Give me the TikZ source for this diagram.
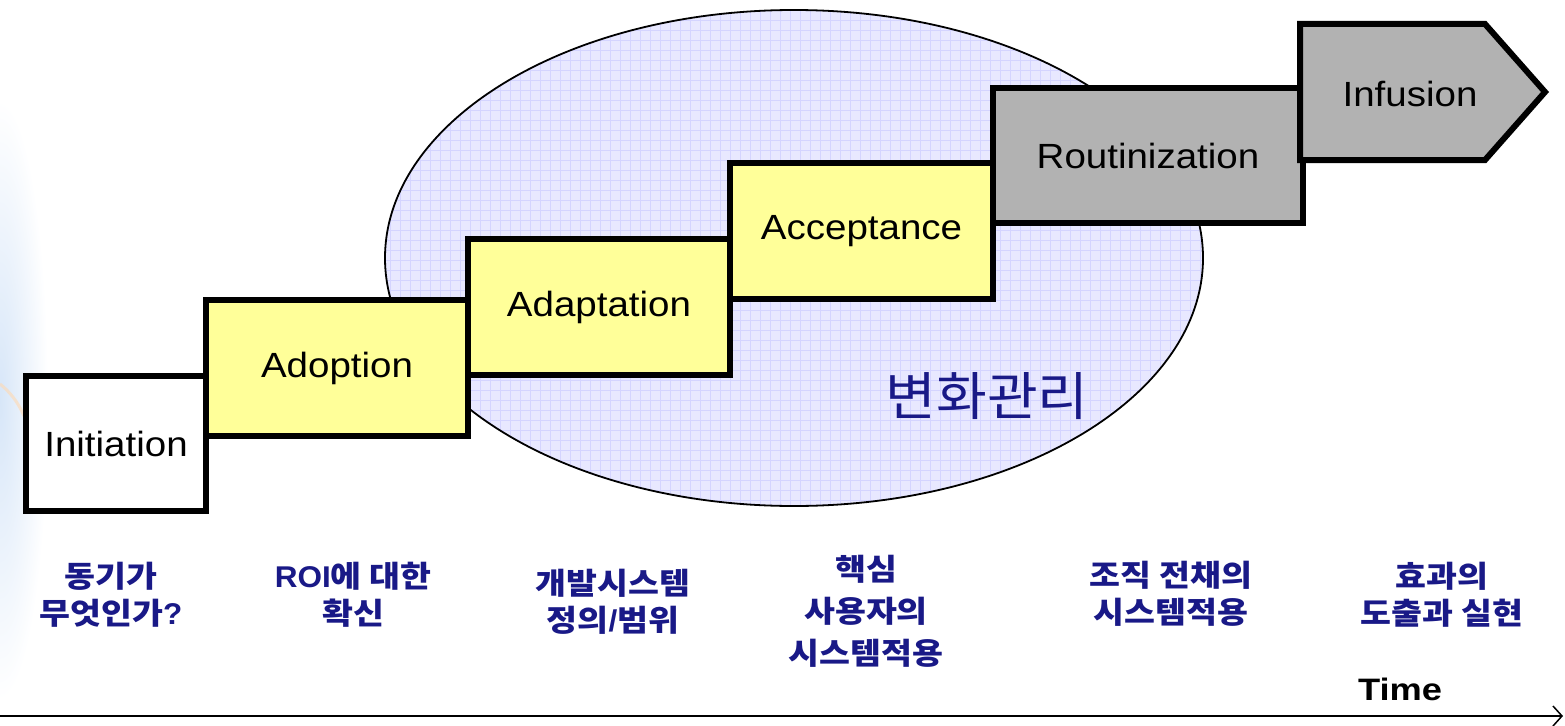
\documentclass[tikz,border=0pt]{standalone}
\usepackage{fontspec}
\setmainfont{Liberation Sans}
\newfontfamily\boxfont{Liberation Sans}[FakeStretch=1.1]
\newfontfamily\krfont{Noto Sans CJK KR}[FakeStretch=1.12]
\newfontfamily\bigkrfont{Noto Sans CJK KR}[FakeStretch=1.06]
\newfontfamily\latbold{Liberation Sans Bold}[FakeStretch=1.05]
\newfontfamily\timefont{Liberation Sans Bold}[FakeStretch=1.17]
\usetikzlibrary{arrows.meta,shapes.geometric}
\definecolor{navy}{RGB}{25,25,135}
\definecolor{stageyellow}{RGB}{255,255,153}
\definecolor{stagegray}{RGB}{178,178,178}
\definecolor{ellfill}{RGB}{232,232,255}
\definecolor{ellgrid}{RGB}{212,212,255}
\definecolor{edgeblue}{RGB}{215,230,248}
\begin{document}
\begin{tikzpicture}[x=1pt,y=-1pt,
  stage/.style={draw=black, line width=6pt, inner sep=0pt, anchor=north west,
    font=\boxfont\fontsize{35}{42}\selectfont, text=black},
  stagetext/.style={inner sep=0pt, font=\boxfont\fontsize{35}{42}\selectfont, text=black},
  steplabel/.style={align=center, text=navy, inner sep=0pt,
    font=\krfont\bfseries\fontsize{30}{37}\selectfont},
]
\useasboundingbox (0,0) rectangle (1565,725);
\fill[white] (0,0) rectangle (1565,725);
% faint decoration at the left edge
\begin{scope}
  \clip (0,0) rectangle (1565,725);
  \shade[inner color=edgeblue, outer color=white] (0,400) ellipse [x radius=48, y radius=300];
  \draw[orange!30, line width=3pt, opacity=0.6] (0,384) .. controls (10,392) and (18,402) .. (24,416);
\end{scope}
% change management ellipse
\begin{scope}
  \clip (794,258) ellipse [x radius=409, y radius=248];
  \fill[ellfill] (380,0) rectangle (1210,510);
  \foreach \gx in {380,390,...,1210} \draw[ellgrid, line width=0.9pt] (\gx,0) -- (\gx,510);
  \foreach \gy in {0,10,...,510} \draw[ellgrid, line width=0.9pt] (380,\gy) -- (1210,\gy);
\end{scope}
\node[draw=black, line width=1.8pt, ellipse, minimum width=818pt, minimum height=496pt, inner sep=0pt] (change) at (794,258) {};
% stages
\node[stage, fill=white, minimum width=180pt, minimum height=135pt] (initiation) at (23,373) {Initiation};
\node[stage, fill=stageyellow, minimum width=262pt, minimum height=136pt] (adoption) at (203,297) {Adoption};
\node[stage, fill=stageyellow, minimum width=262pt, minimum height=136pt] (adaptation) at (465,236) {Adaptation};
\node[stage, fill=stageyellow, minimum width=263pt, minimum height=136pt] (acceptance) at (727,160) {Acceptance};
\node[stage, fill=stagegray, minimum width=310pt, minimum height=135pt] (routinization) at (990,85) {Routinization};
\draw[line width=6pt, fill=stagegray, line join=miter] (1300,24) -- (1485,24) -- (1545,92) -- (1485,160) -- (1300,160) -- cycle;
\node[stagetext] (infusion) at (1410,94) {Infusion};
% ellipse label
\node[text=navy, inner sep=0pt, font=\bigkrfont\fontsize{52}{58}\selectfont] (changelabel) at (987,396) {변화관리};
% bottom labels
\node[steplabel] (l1) at (111,595) {동기가\\무엇인가{\latbold ?}};
\node[steplabel] (l2) at (353,595) {{\latbold ROI}에 대한\\확신};
\node[steplabel] (l3) at (613,602) {개발시스템\\정의{\latbold /}범위};
\node[steplabel, font=\krfont\bfseries\fontsize{30}{42}\selectfont] (l4) at (866,611) {핵심\\사용자의\\시스템적용};
\node[steplabel] (l5) at (1171,594) {조직 전채의\\시스템적용};
\node[steplabel] (l6) at (1442,595) {효과의\\도출과 실현};
% time axis
\node[inner sep=0pt, font=\timefont\fontsize{31}{36}\selectfont, text=black] (time) at (1400,689) {Time};
\coordinate (axisL) at (0,716);
\coordinate (axisR) at (1563,716);
\draw[line width=1.8pt, -{Straight Barb[length=9pt, width=20pt, line width=1.5pt]}] (axisL) -- (axisR);
\end{tikzpicture}
\end{document}
